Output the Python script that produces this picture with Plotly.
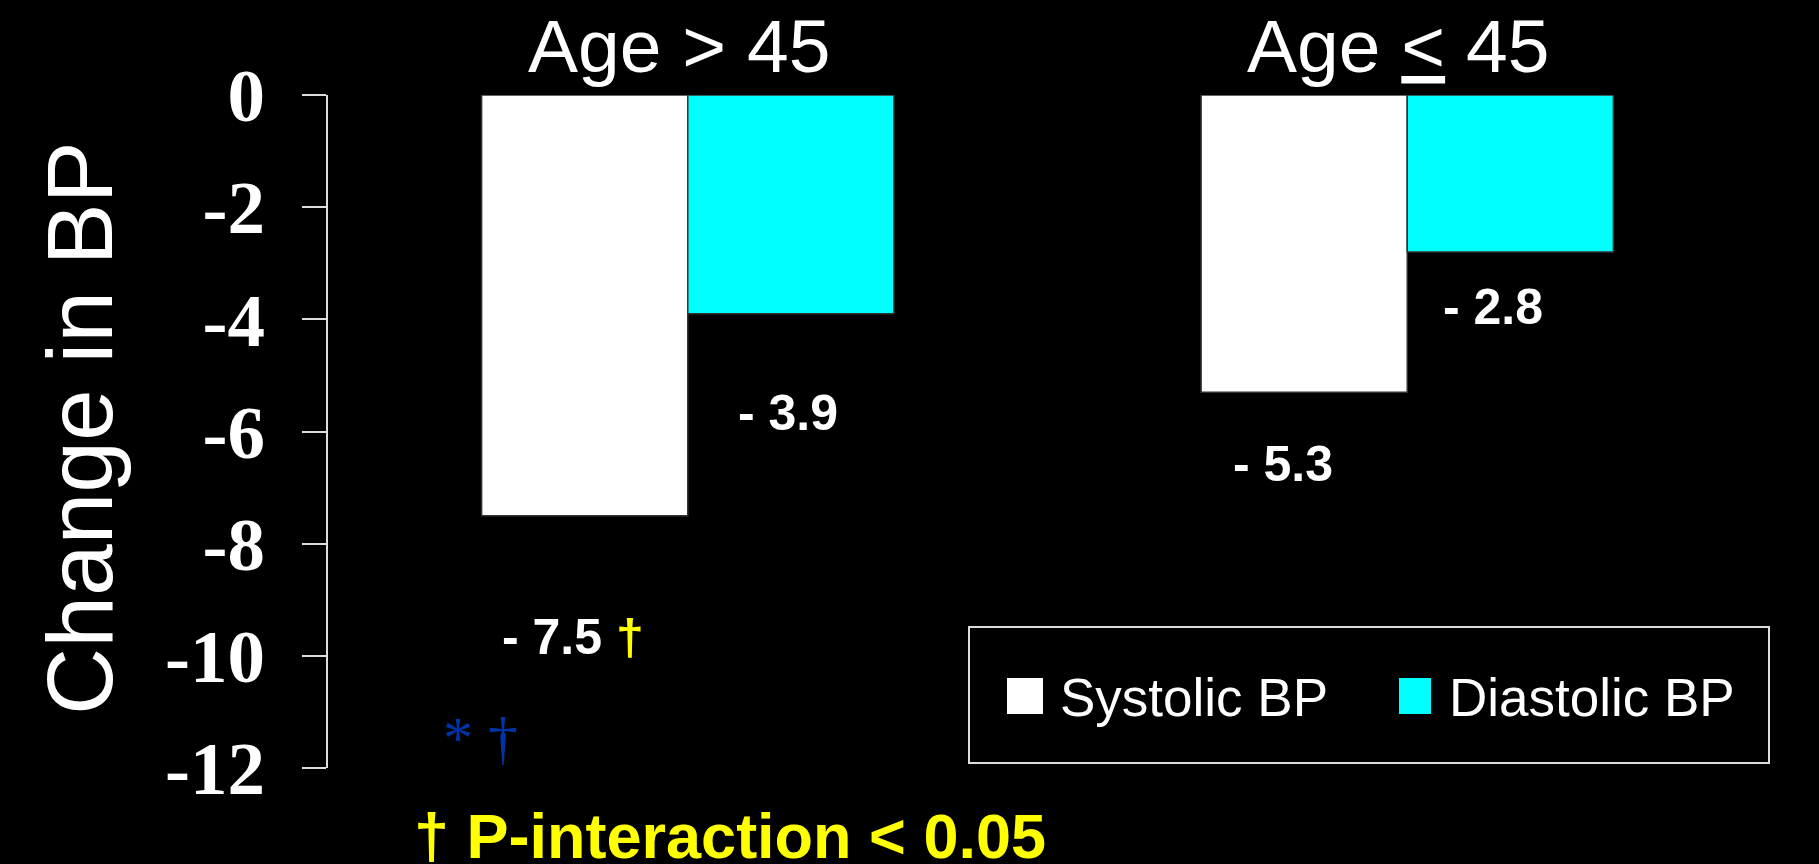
import plotly.graph_objects as go

# ---- data -------------------------------------------------------------
groups = ["Age > 45", "Age ≤ 45"]
series_names = ["Systolic BP", "Diastolic BP"]
systolic = [-7.5, -5.3]
diastolic = [-3.9, -2.8]
y_ticks = [0, -2, -4, -6, -8, -10, -12]
y_tick_labels = ["0", "-2", "-4", "-6", "-8", "-10", "-12"]
axis_title = "Change in BP"
footnote = "† P-interaction &lt; 0.05"
marker_note = "* †"

# ---- styling ----------------------------------------------------------
W, H = 1819, 864
ML, MR, MT, MB = 328, 52, 95, 96
PW, PH = W - ML - MR, H - MT - MB
SANS = "Liberation Sans, Arial, sans-serif"
SERIF = "Liberation Serif, Times New Roman, serif"
WHITE, CYAN, YELLOW, BLUE = "#FFFFFF", "#00FFFF", "#FFFF00", "#0032A8"
AXIS_GREY = "#DDDDDD"
BARGAP = 0.427


def px(x, y):
    """Pixel position on the page -> paper coordinates."""
    return (x - ML) / PW, (H - MB - y) / PH


def group_label(name):
    # the "≤" is set as an underlined "<"
    return name.replace("≤", "<span style='text-decoration:underline'>&lt;</span>")


fig = go.Figure()
colors = [WHITE, CYAN]
for name, vals, col in zip(series_names, [systolic, diastolic], colors):
    fig.add_trace(go.Bar(
        x=groups, y=vals, name=name,
        marker=dict(color=col, line=dict(color="#333333", width=1.5)),
        showlegend=False, hoverinfo="skip",
    ))

# group headings above the bars
_, head_y = px(0, 46)
for g in groups:
    fig.add_annotation(
        x=g, y=head_y, xref="x", yref="paper", text=group_label(g),
        showarrow=False, xanchor="center", yanchor="middle", xshift=-9,
        font=dict(family=SANS, size=75, color=WHITE),
    )

# value labels under each bar (x offset of the bar inside its group)
half = (1 - BARGAP) / 4
label_shift = {  # (xshift, yshift) in pixels per series / group
    0: [(-12, -121), (-21, -72)],
    1: [(-3, -99), (-17, -55)],
}
for si, vals in enumerate([systolic, diastolic]):
    for gi, v in enumerate(vals):
        text = f"- {abs(v):.1f}"
        if si == 0 and gi == 0:
            text += f" <span style='color:{YELLOW}'>†</span>"
        xs, ys = label_shift[si][gi]
        fig.add_annotation(
            x=gi + (-half if si == 0 else half), y=v, xref="x", yref="y",
            text=text, showarrow=False, xanchor="center", yanchor="middle",
            xshift=xs, yshift=ys,
            font=dict(family=SANS, size=50, color=WHITE, weight="bold"),
        )

# axis title
tx, ty = px(80, 428)
fig.add_annotation(
    x=tx, y=ty, xref="paper", yref="paper", text=axis_title, textangle=-90,
    showarrow=False, xanchor="center", yanchor="middle",
    font=dict(family=SANS, size=93, color=WHITE),
)

# blue markers under the first group
mx, my = px(441, 738)
fig.add_annotation(
    x=mx, y=my, xref="paper", yref="paper", text=marker_note,
    showarrow=False, xanchor="left", yanchor="middle",
    font=dict(family=SERIF, size=60, color=BLUE),
)

# footnote
fx, fy = px(412, 836)
fig.add_annotation(
    x=fx, y=fy, xref="paper", yref="paper", text=footnote,
    showarrow=False, xanchor="left", yanchor="middle",
    font=dict(family=SANS, size=63, color=YELLOW, weight="bold"),
)

# legend box drawn with shapes
shapes = []
bx0, by0 = px(969, 763)
bx1, by1 = px(1769, 627)
shapes.append(dict(type="rect", xref="paper", yref="paper",
                   x0=bx0, y0=by0, x1=bx1, y1=by1,
                   line=dict(color=AXIS_GREY, width=2), fillcolor="rgba(0,0,0,0)"))
legend_items = [((1007, 1043), 1058), ((1399, 1431), 1447)]
for (sx, tx_left), name, col in zip(legend_items, series_names, colors):
    x0, y0 = px(sx[0], 714)
    x1, y1 = px(sx[1], 678)
    shapes.append(dict(type="rect", xref="paper", yref="paper",
                       x0=x0, y0=y0, x1=x1, y1=y1,
                       line=dict(width=0), fillcolor=col))
    lx, ly = px(tx_left, 697)
    fig.add_annotation(
        x=lx, y=ly, xref="paper", yref="paper", text=name,
        showarrow=False, xanchor="left", yanchor="middle",
        font=dict(family=SANS, size=53, color=WHITE),
    )

fig.update_layout(
    width=W, height=H,
    margin=dict(l=ML, r=MR, t=MT, b=MB, pad=0, autoexpand=False),
    paper_bgcolor="black", plot_bgcolor="black",
    barmode="group", bargap=BARGAP, bargroupgap=0,
    shapes=shapes,
    xaxis=dict(
        range=[-0.5, 1.5], showgrid=False, zeroline=False,
        showline=False, ticks="", showticklabels=False, automargin=False,
    ),
    yaxis=dict(
        range=[-12, 0], showgrid=False, zeroline=False, automargin=False,
        showline=True, linecolor=AXIS_GREY, linewidth=2,
        ticks="outside", ticklen=24, tickwidth=2, tickcolor=AXIS_GREY,
        tickvals=y_ticks, ticktext=y_tick_labels,
        tickfont=dict(family=SERIF, size=75, color=WHITE, weight="bold"),
        ticklabelstandoff=22,
    ),
)

fig.write_html("out.html")
